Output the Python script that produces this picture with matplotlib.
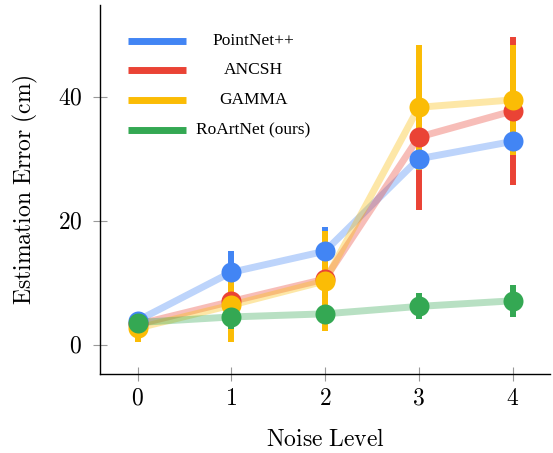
import numpy as np
import matplotlib.pyplot as plt

plt.rcParams['mathtext.fontset'] = 'cm'
plt.rcParams['font.family'] = ['Liberation Serif', 'DejaVu Serif']

# noise levels
noise = np.array([0, 1, 2, 3, 4])

# mean estimation error (cm) and spread per method
pointnet = [3.9, 11.7, 15.1, 30.0, 32.8]
pointnet_err = [1.0, 3.5, 3.9, 3.0, 2.5]
ancsh = [3.3, 7.0, 10.6, 33.5, 37.7]
ancsh_err = [1.0, 2.5, 3.0, 11.7, 11.9]
gamma = [2.7, 6.4, 10.3, 38.3, 39.5]
gamma_err = [2.3, 6.0, 8.1, 10.1, 8.9]
roartnet = [3.6, 4.5, 5.0, 6.2, 7.1]
roartnet_err = [1.0, 2.0, 1.5, 2.1, 2.6]

names = ['PointNet++', 'ANCSH', 'GAMMA', 'RoArtNet (ours)']
colors = ['#4285F4', '#EA4335', '#FBBC05', '#34A853']
means = [pointnet, ancsh, gamma, roartnet]
errs = [pointnet_err, ancsh_err, gamma_err, roartnet_err]

fig = plt.figure(figsize=(5.53, 4.53), dpi=100)
ax = fig.add_axes([100 / 553, 79 / 453, 450 / 553, 369 / 453])

# faded connecting lines
for m, c in zip(means, colors):
    ax.plot(noise, m, color=c, lw=5, alpha=0.35, solid_capstyle='butt', zorder=1)
# error bars
for m, e, c in zip(means, errs, colors):
    ax.errorbar(noise, m, yerr=e, fmt='none', ecolor=c, elinewidth=4.3, capsize=0, zorder=2)
# markers on top
for m, c in zip(means, colors):
    ax.plot(noise, m, 'o', color=c, ms=14.4, mec='none', zorder=3)

ax.set_xlim(-0.4, 4.4)
ax.set_ylim(-4.7, 54.8)
ax.set_xticks(noise)
ax.set_xticklabels([f'${v}$' for v in noise])
ax.set_yticks([0, 20, 40])
ax.set_yticklabels(['$0$', '$20$', '$40$'])
ax.tick_params(direction='inout', length=9.5, width=0.8, color='#999999',
               labelsize=17)
ax.tick_params(axis='x', pad=6)
ax.tick_params(axis='y', pad=8)
for s in ['top', 'right']:
    ax.spines[s].set_visible(False)
for s in ['left', 'bottom']:
    ax.spines[s].set_linewidth(1.0)

ax.set_xlabel(r'$\mathrm{Noise\ Level}$', fontsize=17, labelpad=14)
ax.set_ylabel(r'$\mathrm{Estimation\ Error\ (cm)}$', fontsize=17, labelpad=13)

# legend drawn by hand: short thick handle and centred label
rows = [0.903, 0.824, 0.743, 0.661]
for n, c, y in zip(names, colors, rows):
    ax.plot([0.062, 0.191], [y, y], color=c, lw=5, solid_capstyle='butt',
            transform=ax.transAxes, zorder=4)
    ax.text(0.340, y, n, ha='center', va='center', fontsize=12.5,
            transform=ax.transAxes, zorder=4)

fig.savefig('out.png', dpi=100)
